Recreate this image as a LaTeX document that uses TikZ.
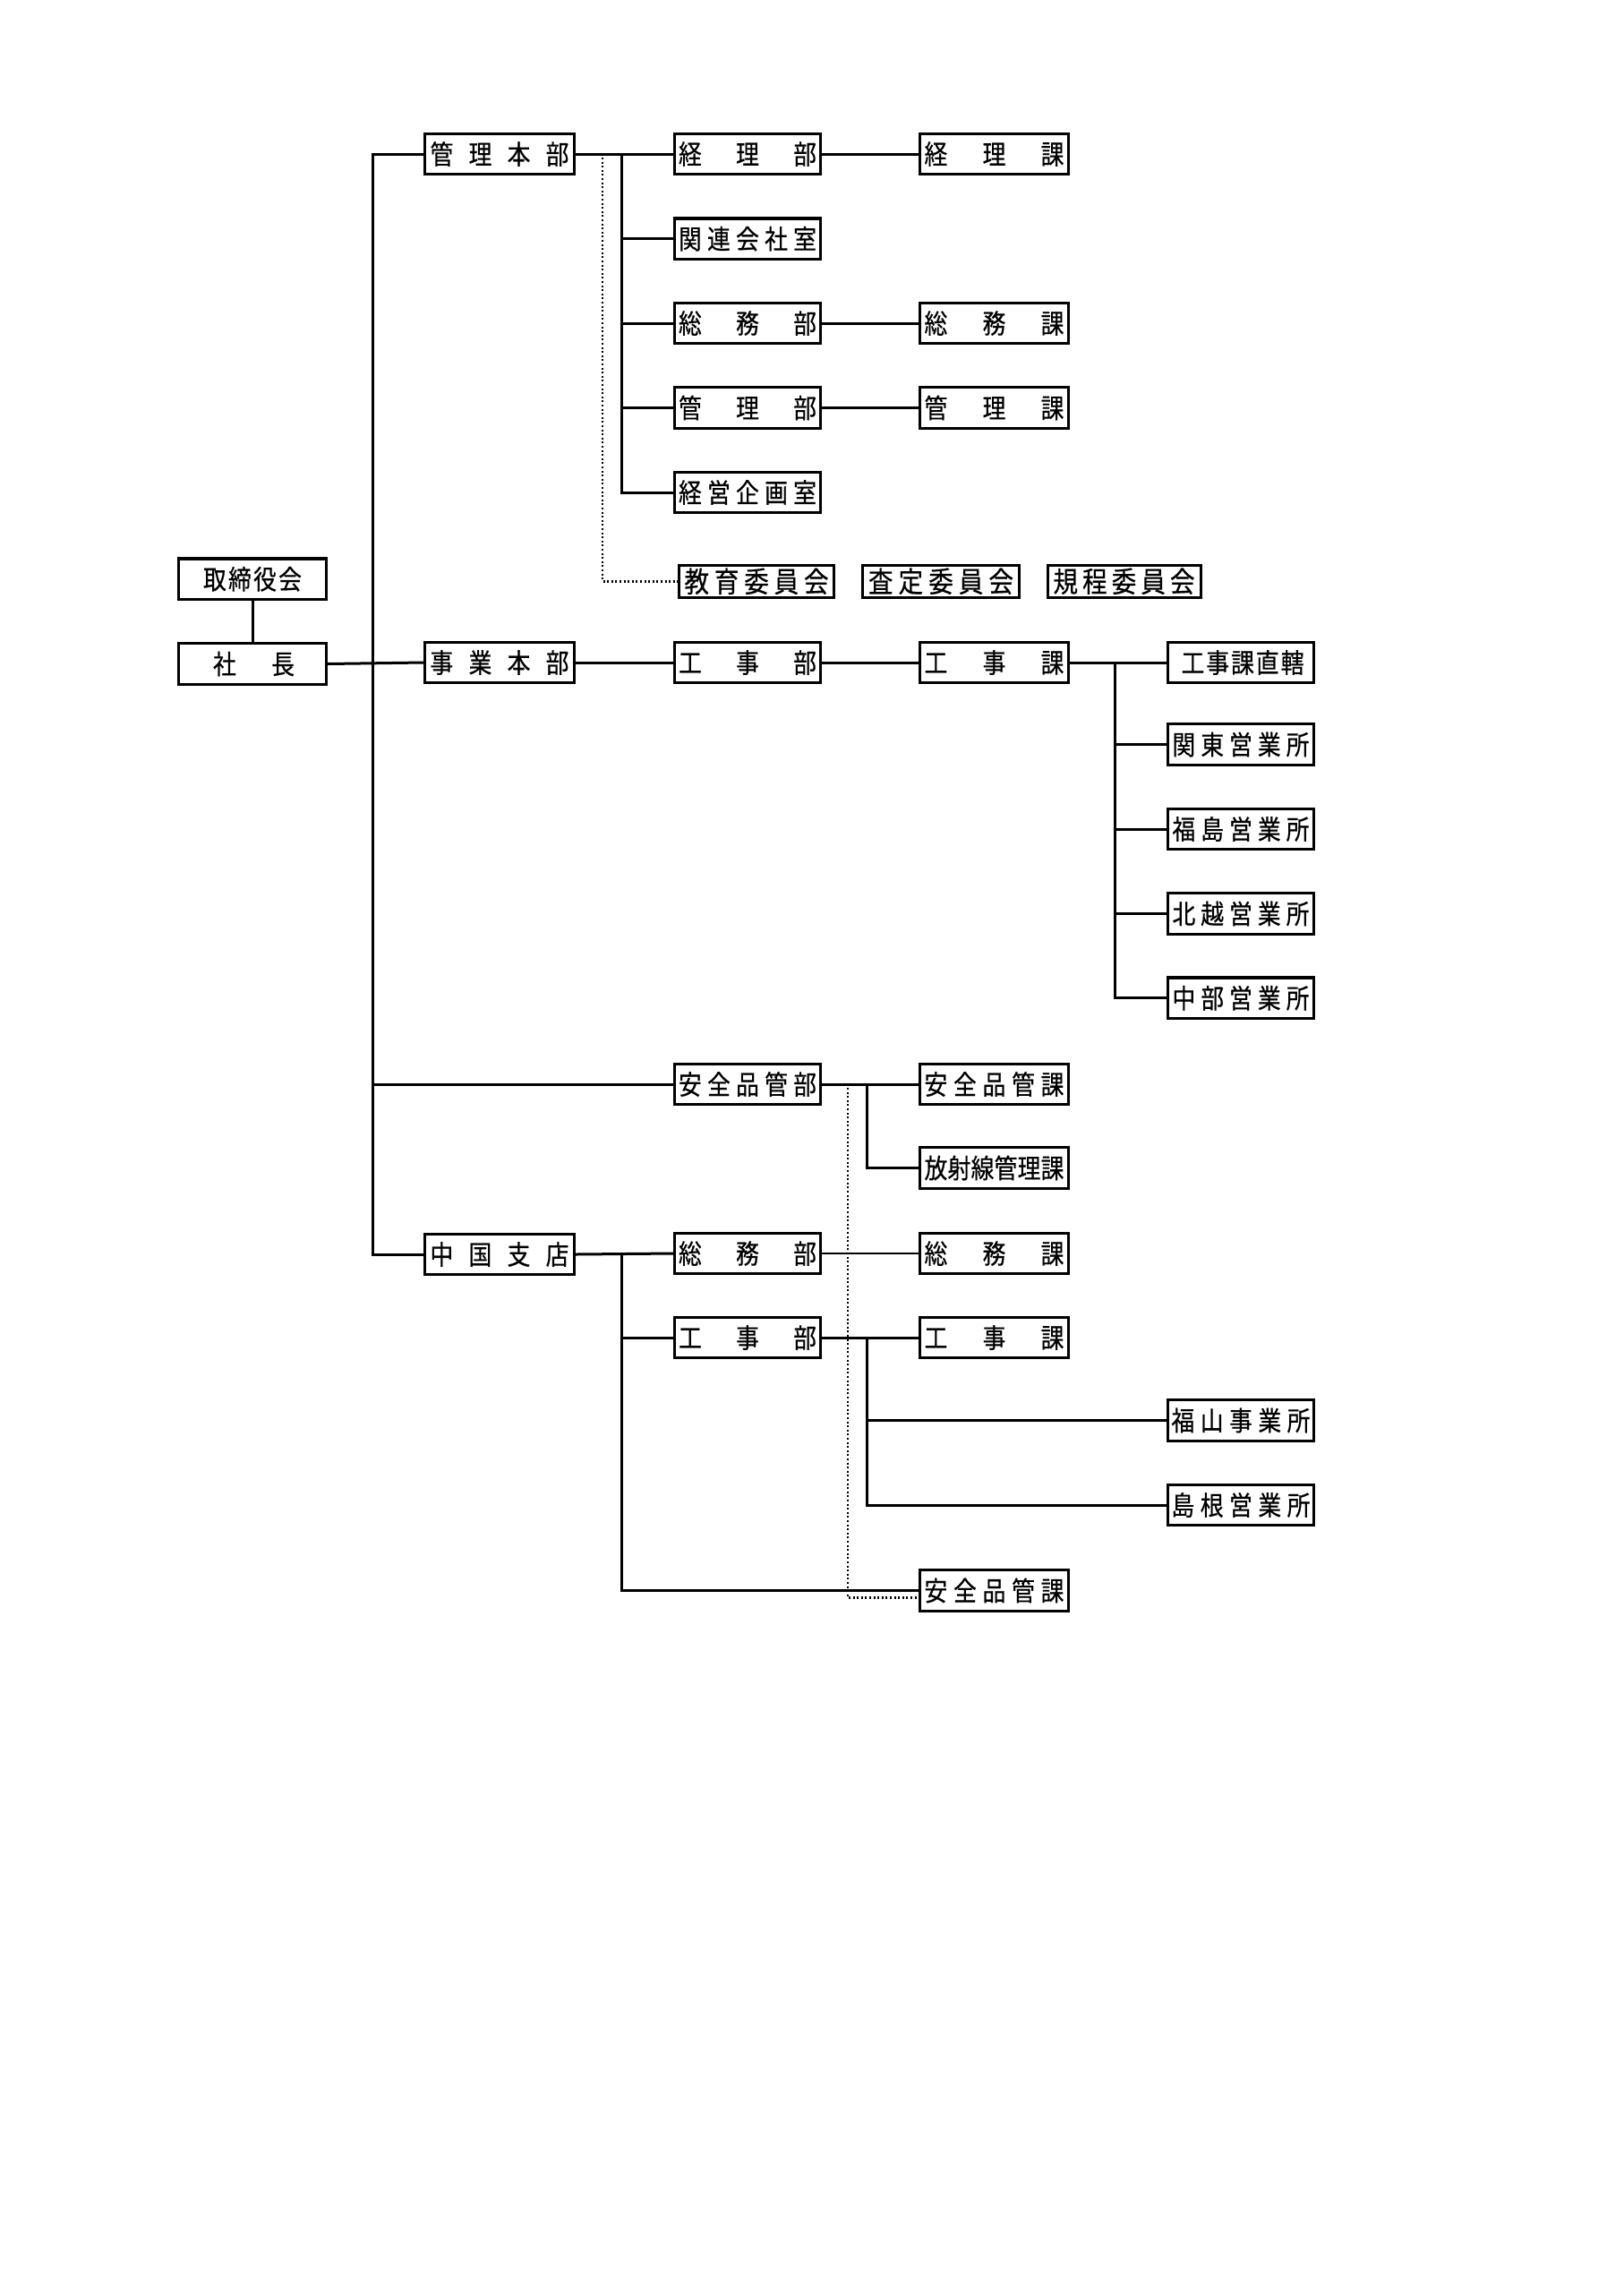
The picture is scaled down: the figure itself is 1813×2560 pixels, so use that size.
\documentclass[tikz,border=0pt]{standalone}
\usepackage{fontspec}
\newfontfamily\jpfont[FakeStretch=0.86,FakeBold=0.5]{Noto Sans CJK JP}
\newcommand\spr[2]{\makebox[#1pt][s]{#2}}
\newcommand\hf{\hfil}
\begin{document}
\begin{tikzpicture}[x=1pt,y=-1pt,
  box/.style={draw, line width=3.4pt, inner sep=0pt, minimum height=45.5pt, fill=white,
    font=\jpfont\fontsize{30}{32}\selectfont},
  wz/.style={box, minimum width=164.5pt},
  wa/.style={box, minimum width=166.5pt},
  wb/.style={box, minimum width=162.5pt},
  wc/.style={box, minimum width=166.5pt},
  wd/.style={box, minimum width=163.5pt},
  cbox/.style={draw, line width=3pt, inner sep=0pt, minimum height=35.5pt, fill=white,
    font=\jpfont\fontsize{32}{34}\selectfont},
  conn/.style={line width=3pt},
  thinconn/.style={line width=1.3pt},
  dotline/.style={line width=2.6pt, dash pattern=on 2pt off 2.6pt}
]
\useasboundingbox[fill=white] (0,0) rectangle (1813,2560);

% helper coordinates (x positions of vertical lines)
\coordinate (trunk) at (416,0);
\coordinate (brA) at (694,0);
\coordinate (dtA) at (673,0);
\coordinate (brB) at (1245.5,0);
\coordinate (brC) at (968,0);
\coordinate (dtB) at (947,0);

% column 0
\node[wz] (board) at (282,646.8) {\spr{110}{取\hf 締\hf 役\hf 会}};
\node[wz] (pres) at (282,741.5) {\hspace*{3pt}\spr{91}{社\hf 長}};

% column 1
\node[wa] (kanrihq) at (558,172) {\spr{155}{管\hf 理\hf 本\hf 部}};
\node[wa] (jigyohq) at (558,740) {\spr{155}{事\hf 業\hf 本\hf 部}};
\node[wa] (chugoku) at (558,1401) {\spr{155}{中\hf 国\hf 支\hf 店}};

% column 2
\node[wb] (keiribu) at (835,172) {\spr{154}{経\hf 理\hf 部}};
\node[wb] (kanren) at (835,266.7) {\spr{154}{関\hf 連\hf 会\hf 社\hf 室}};
\node[wb] (somubu) at (835,361) {\spr{154}{総\hf 務\hf 部}};
\node[wb] (kanribu) at (835,455.5) {\spr{154}{管\hf 理\hf 部}};
\node[wb] (keiei) at (835,550) {\spr{154}{経\hf 営\hf 企\hf 画\hf 室}};
\node[wb] (kojibu) at (835,740) {\spr{154}{工\hf 事\hf 部}};
\node[wb] (anzenbu) at (835,1211) {\spr{154}{安\hf 全\hf 品\hf 管\hf 部}};
\node[wb] (csomubu) at (835,1400) {\spr{154}{総\hf 務\hf 部}};
\node[wb] (ckojibu) at (835,1494) {\spr{154}{工\hf 事\hf 部}};

% column 3
\node[wc] (keirika) at (1110.5,172) {\spr{156}{経\hf 理\hf 課}};
\node[wc] (somuka) at (1110.5,361) {\spr{156}{総\hf 務\hf 課}};
\node[wc] (kanrika) at (1110.5,455.5) {\spr{156}{管\hf 理\hf 課}};
\node[wc] (kojika) at (1110.5,740) {\spr{156}{工\hf 事\hf 課}};
\node[wc] (anzenka) at (1110.5,1211) {\spr{156}{安\hf 全\hf 品\hf 管\hf 課}};
\node[wc] (hoshasen) at (1110.5,1304.5) {\spr{156}{放\hf 射\hf 線\hf 管\hf 理\hf 課}};
\node[wc] (csomuka) at (1110.5,1400) {\spr{156}{総\hf 務\hf 課}};
\node[wc] (ckojika) at (1110.5,1494) {\spr{156}{工\hf 事\hf 課}};
\node[wc] (canzenka) at (1110.5,1776.5) {\spr{156}{安\hf 全\hf 品\hf 管\hf 課}};

% column 4
\node[wd] (chokkatsu) at (1386,740) {\hspace*{4pt}\spr{137}{工\hf 事\hf 課\hf 直\hf 轄}};
\node[wd] (kanto) at (1386,831.5) {\spr{153}{関\hf 東\hf 営\hf 業\hf 所}};
\node[wd] (fukushima) at (1386,926) {\spr{153}{福\hf 島\hf 営\hf 業\hf 所}};
\node[wd] (hokuetsu) at (1386,1020.5) {\spr{153}{北\hf 越\hf 営\hf 業\hf 所}};
\node[wd] (chubu) at (1386,1114.7) {\spr{153}{中\hf 部\hf 営\hf 業\hf 所}};
\node[wd] (fukuyama) at (1386,1586.5) {\spr{155}{福\hf 山\hf 事\hf 業\hf 所}};
\node[wd] (shimane) at (1386,1681) {\spr{155}{島\hf 根\hf 営\hf 業\hf 所}};

% committees
\node[cbox, minimum width=173.5pt] (kyoiku) at (845,649.3) {\spr{161}{教\hf 育\hf 委\hf 員\hf 会}};
\node[cbox, minimum width=175.5pt] (satei) at (1051,649.3) {\spr{162}{査\hf 定\hf 委\hf 員\hf 会}};
\node[cbox, minimum width=171pt] (kitei) at (1255.5,649.3) {\spr{158}{規\hf 程\hf 委\hf 員\hf 会}};

% dotted connectors
\draw[dotline] ([yshift=-4pt]kanrihq.east -| dtA) |- (kyoiku.west);
\draw[dotline] ([yshift=-4pt]anzenbu.east -| dtB) |- ([yshift=-8pt]canzenka.west);

% solid connectors
\draw[conn] (board.south) -- (pres.north);
\draw[conn] (pres.east) -- (jigyohq.west);
\draw[conn] (kanrihq.west) -- (kanrihq.west -| trunk) -- (chugoku.west -| trunk) -- (chugoku.west);
\draw[conn] (anzenbu.west) -- (anzenbu.west -| trunk);

% 管理本部 group
\draw[conn] (kanrihq.east) -- (keiribu.west);
\draw[conn] (kanrihq.east -| brA) |- (keiei.west);
\foreach \n in {kanren,somubu,kanribu}
  \draw[conn] (\n.west -| brA) -- (\n.west);
\draw[conn] (keiribu.east) -- (keirika.west);
\draw[conn] (somubu.east) -- (somuka.west);
\draw[conn] (kanribu.east) -- (kanrika.west);

% 事業本部 group
\draw[conn] (jigyohq.east) -- (kojibu.west);
\draw[conn] (kojibu.east) -- (kojika.west);
\draw[conn] (kojika.east) -- (chokkatsu.west);
\draw[conn] (kojika.east -| brB) |- (chubu.west);
\foreach \n in {kanto,fukushima,hokuetsu}
  \draw[conn] (\n.west -| brB) -- (\n.west);

% 安全品管部 group
\draw[conn] (anzenbu.east) -- (anzenka.west);
\draw[conn] (anzenbu.east -| brC) |- (hoshasen.west);

% 中国支店 group
\draw[conn] (chugoku.east) -- (csomubu.west);
\draw[conn] (chugoku.east -| brA) |- (canzenka.west);
\draw[conn] (ckojibu.west -| brA) -- (ckojibu.west);
\draw[thinconn] (csomubu.east) -- (csomuka.west);
\draw[conn] (ckojibu.east) -- (ckojika.west);
\draw[conn] (ckojibu.east -| brC) |- (shimane.west);
\draw[conn] (fukuyama.west -| brC) -- (fukuyama.west);
\end{tikzpicture}
\end{document}
